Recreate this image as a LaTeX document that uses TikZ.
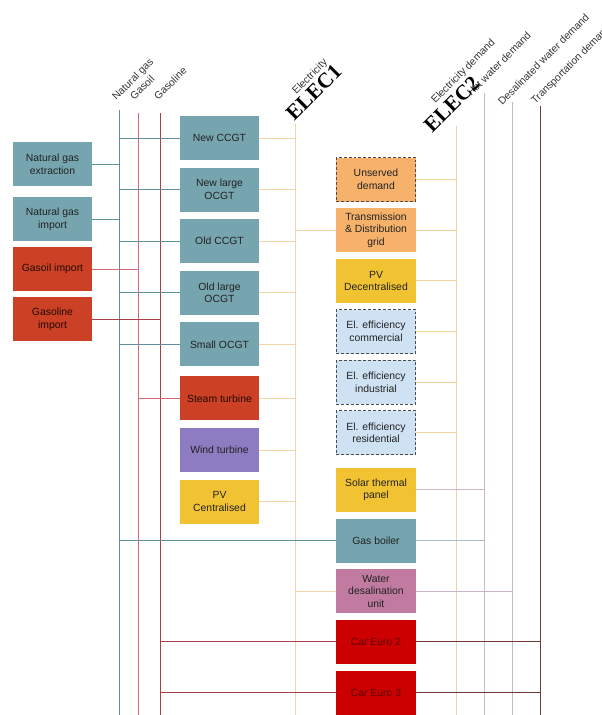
\documentclass[tikz,border=0pt]{standalone}
\usepackage{fontspec}
\newfontfamily\arialfont{Liberation Sans}
\newfontfamily\timesfont{Liberation Serif}
\usetikzlibrary{
    positioning
}
\definecolor{ngfill}{HTML}{76A5AF}
\definecolor{redfill}{HTML}{CC4125}
\definecolor{windfill}{HTML}{8E7CC3}
\definecolor{yellowfill}{HTML}{F1C232}
\definecolor{orangefill}{HTML}{F6B26B}
\definecolor{efffill}{HTML}{CFE2F3}
\definecolor{pinkfill}{HTML}{C27BA0}
\definecolor{carfill}{HTML}{CC0000}
\definecolor{ngcol}{HTML}{5F909C}
\definecolor{gocol}{HTML}{D46A76}
\definecolor{glcol}{HTML}{A8404A}
\definecolor{elcol}{HTML}{F2D6A6}
\definecolor{edcol}{HTML}{F1D49C}
\definecolor{hwcol}{HTML}{D4B4C6}
\definecolor{boilercol}{HTML}{A3C1C9}
\definecolor{dwcol}{HTML}{C6B6C8}
\definecolor{trcol}{HTML}{74383A}
\definecolor{txt}{HTML}{222222}
\tikzset{
    box/.style = {
        rectangle,
        minimum width = 59.5pt,
        minimum height = 33pt,
        inner sep = 1pt,
        outer sep = 0pt,
        align = center,
        text = txt,
        font = \arialfont\fontsize{7.8}{9.5}\selectfont
    },
    ngbox/.style = {box, fill = ngfill},
    redbox/.style = {box, fill = redfill, text = black!85!redfill},
    windbox/.style = {box, fill = windfill},
    yellowbox/.style = {box, fill = yellowfill},
    orangebox/.style = {box, fill = orangefill},
    effbox/.style = {box, fill = efffill},
    pinkbox/.style = {box, fill = pinkfill},
    carbox/.style = {box, fill = carfill, text = black!55!carfill},
    optional/.style = {
        draw = black!70,
        line width = 0.75pt,
        dash pattern = on 2.2pt off 1.5pt
    },
    carrier/.style = {
        rotate = 45,
        anchor = base west,
        inner sep = 0pt,
        text = black!80,
        font = \arialfont\fontsize{7.8}{9.5}\selectfont
    },
    bus/.style = {
        rotate = 45,
        anchor = base west,
        inner sep = 0pt,
        font = \timesfont\bfseries\fontsize{16}{18}\selectfont
    },
    ngline/.style = {draw = ngcol},
    goline/.style = {draw = gocol},
    glline/.style = {draw = glcol},
    elline/.style = {draw = elcol},
    edline/.style = {draw = edcol},
    hwline/.style = {draw = hwcol},
    boilerline/.style = {draw = boilercol},
    dwline/.style = {draw = dwcol},
    trline/.style = {draw = trcol}
}

\begin{document}
\begin{tikzpicture}[x = 0.75pt, y = -0.75pt, line width = 0.75pt, node distance = 5.7pt]
    \useasboundingbox (0,0) rectangle (602,715);

    \coordinate (bottom) at (0,715);
    \coordinate (ng) at (119,110);
    \coordinate (go) at (138,113);
    \coordinate (gl) at (160,113);
    \coordinate (el) at (295,124);
    \coordinate (ed) at (456,126);
    \coordinate (hw) at (484,93);
    \coordinate (dw) at (512,102);
    \coordinate (tr) at (540,106);

    \draw[ngline] (ng) -- (ng |- bottom);
    \draw[goline] (go) -- (go |- bottom);
    \draw[glline] (gl) -- (gl |- bottom);
    \draw[elline] (el) -- (el |- bottom);
    \draw[edline] (ed) -- (ed |- bottom);
    \draw[hwline] (hw) -- (hw |- bottom);
    \draw[dwline] (dw) -- (dw |- bottom);
    \draw[trline] (tr) -- (tr |- bottom);

    \node[carrier] (lng) at (116,101) {Natural gas};
    \node[carrier] (lgo) at (134,101) {Gasoil};
    \node[carrier] (lgl) at (158,101) {Gasoline};
    \node[carrier] (lel) at (296,95) {Electricity};
    \node[carrier] (led) at (435,104) {Electricity demand};
    \node[carrier] (lhw) at (471,97) {Hot water demand};
    \node[carrier] (ldw) at (502,106) {Desalinated water demand};
    \node[carrier] (ltr) at (535,105) {Transportation demand};
    \node[bus] (elec1) at (294,122) {ELEC1};
    \node[bus] (elec2) at (432,134) {ELEC2};

    \node[ngbox] (nge) at (52.5,164) {Natural gas\\extraction};
    \node[ngbox] (ngi) [below = 8.25pt of nge] {Natural gas\\import};
    \node[redbox] (goi) [below = 4.5pt of ngi] {Gasoil import};
    \node[redbox] (gli) [below = 4.5pt of goi] {Gasoline\\import};

    \node[ngbox] (ccgtn) at (219.5,138) {New CCGT};
    \node[ngbox] (ocgtn) [below = of ccgtn] {New large\\OCGT};
    \node[ngbox] (ccgto) [below = of ocgtn] {Old CCGT};
    \node[ngbox] (ocgto) [below = of ccgto] {Old large\\OCGT};
    \node[ngbox] (ocgts) [below = of ocgto] {Small OCGT};
    \node[redbox] (steam) [below = 7.5pt of ocgts] {Steam turbine};
    \node[windbox] (wind) [below = of steam] {Wind turbine};
    \node[yellowbox] (pvc) [below = of wind] {PV\\Centralised};

    \node[orangebox, optional] (unserved) at (376,179.5) {Unserved\\demand};
    \node[orangebox] (tdgrid) [below = 5pt of unserved] {Transmission\\\& Distribution\\grid};
    \node[yellowbox] (pvd) [below = 5pt of tdgrid] {PV\\Decentralised};
    \node[effbox, optional] (effc) [below = 5pt of pvd] {El. efficiency\\commercial};
    \node[effbox, optional] (effi) [below = 5pt of effc] {El. efficiency\\industrial};
    \node[effbox, optional] (effr) [below = 5pt of effi] {El. efficiency\\residential};
    \node[yellowbox] (solar) [below = 9.75pt of effr] {Solar thermal\\panel};
    \node[ngbox] (boiler) [below = 5pt of solar] {Gas boiler};
    \node[pinkbox] (desal) [below = 5pt of boiler] {Water\\desalination\\unit};
    \node[carbox] (car2) [below = 5pt of desal] {Car Euro 2};
    \node[carbox] (car3) [below = 5pt of car2] {Car Euro 3};

    \draw[ngline] (nge.east) -- (nge.east -| ng);
    \draw[ngline] (ngi.east) -- (ngi.east -| ng);
    \draw[goline] (goi.east) -- (goi.east -| go);
    \draw[glline] (gli.east) -- (gli.east -| gl);

    \draw[ngline] (ng |- ccgtn.west) -- (ccgtn.west);
    \draw[ngline] (ng |- ocgtn.west) -- (ocgtn.west);
    \draw[ngline] (ng |- ccgto.west) -- (ccgto.west);
    \draw[ngline] (ng |- ocgto.west) -- (ocgto.west);
    \draw[ngline] (ng |- ocgts.west) -- (ocgts.west);
    \draw[goline] (go |- steam.west) -- (steam.west);

    \draw[elline] (ccgtn.east) -- (ccgtn.east -| el);
    \draw[elline] (ocgtn.east) -- (ocgtn.east -| el);
    \draw[elline] (ccgto.east) -- (ccgto.east -| el);
    \draw[elline] (ocgto.east) -- (ocgto.east -| el);
    \draw[elline] (ocgts.east) -- (ocgts.east -| el);
    \draw[elline] (steam.east) -- (steam.east -| el);
    \draw[elline] (wind.east) -- (wind.east -| el);
    \draw[elline] (pvc.east) -- (pvc.east -| el);

    \draw[elline] (el |- tdgrid.west) -- (tdgrid.west);
    \draw[edline] (unserved.east) -- (unserved.east -| ed);
    \draw[edline] (tdgrid.east) -- (tdgrid.east -| ed);
    \draw[edline] (pvd.east) -- (pvd.east -| ed);
    \draw[edline] (effc.east) -- (effc.east -| ed);
    \draw[edline] (effi.east) -- (effi.east -| ed);
    \draw[edline] (effr.east) -- (effr.east -| ed);

    \draw[hwline] (solar.east) -- (solar.east -| hw);
    \draw[ngline] (ng |- boiler.west) -- (boiler.west);
    \draw[boilerline] (boiler.east) -- (boiler.east -| hw);
    \draw[elline] (el |- desal.west) -- (desal.west);
    \draw[dwline] (desal.east) -- (desal.east -| dw);
    \draw[glline] (gl |- car2.west) -- (car2.west);
    \draw[trline] (car2.east) -- (car2.east -| tr);
    \draw[glline] (gl |- car3.west) -- (car3.west);
    \draw[trline] (car3.east) -- (car3.east -| tr);
\end{tikzpicture}
\end{document}
